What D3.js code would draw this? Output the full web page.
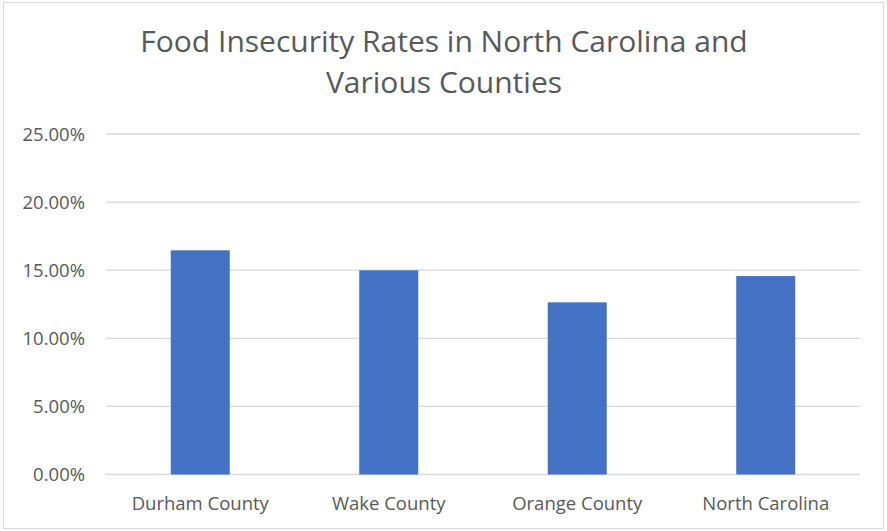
<!DOCTYPE html>
<html>
<head>
<meta charset="utf-8">
<script src="https://cdn.jsdelivr.net/npm/d3@7"></script>
<style>
  html, body { margin: 0; padding: 0; background: #fff; }
  svg { display: block; }
  text { font-family: "Open Sans", "Noto Sans", sans-serif; fill: #595959; }
</style>
</head>
<body>
<svg id="chart" width="887" height="531"></svg>
<script>
// Food insecurity rates (fraction of population)
const categories = ["Durham County", "Wake County", "Orange County", "North Carolina"];
const rates = [0.1646, 0.1499, 0.1264, 0.1457];
const yTicks = [0, 0.05, 0.10, 0.15, 0.20, 0.25];
const titleLines = ["Food Insecurity Rates in North Carolina and", "Various Counties"];

const svg = d3.select("#chart");
const W = 887, H = 531;

// chart frame
svg.append("rect")
  .attr("x", 3.5).attr("y", 2.5)
  .attr("width", W - 7).attr("height", H - 5)
  .attr("fill", "#fff").attr("stroke", "#d9d9d9").attr("stroke-width", 1);

const plot = { left: 106, right: 860, top: 134, bottom: 474.5 };

const x = d3.scaleBand()
  .domain(categories)
  .range([plot.left, plot.right])
  .paddingInner(0.687)
  .paddingOuter(0.3435);

const y = d3.scaleLinear()
  .domain([0, 0.25])
  .range([plot.bottom, plot.top]);

// gridlines
svg.append("g")
  .selectAll("line")
  .data(yTicks)
  .join("line")
  .attr("x1", plot.left).attr("x2", plot.right)
  .attr("y1", d => y(d)).attr("y2", d => y(d))
  .attr("stroke", "#d9d9d9").attr("stroke-width", 1.3);

// y axis labels
const yAxis = d3.axisLeft(y)
  .tickValues(yTicks)
  .tickFormat(d3.format(".2%"))
  .tickSize(0)
  .tickPadding(0);
const gy = svg.append("g")
  .attr("transform", `translate(85,0)`)
  .call(yAxis);
gy.select(".domain").remove();
gy.selectAll("text")
  .style("font-family", "'Open Sans', sans-serif")
  .attr("font-size", 18.5)
  .attr("fill", "#595959")
  .attr("dy", "0.35em");

// bars
svg.append("g")
  .selectAll("rect")
  .data(categories.map((c, i) => ({ c, v: rates[i] })))
  .join("rect")
  .attr("x", d => x(d.c))
  .attr("width", x.bandwidth())
  .attr("y", d => y(d.v))
  .attr("height", d => y(0) - y(d.v))
  .attr("fill", "#4472C4");

// x axis labels
const xAxis = d3.axisBottom(x).tickSize(0).tickPadding(0);
const gx = svg.append("g")
  .attr("transform", `translate(0,${plot.bottom})`)
  .call(xAxis);
gx.select(".domain").remove();
gx.selectAll("text")
  .style("font-family", "'Open Sans', sans-serif")
  .attr("font-size", 18.5)
  .attr("fill", "#595959")
  .attr("y", 35.5)
  .attr("dy", 0);

// title
svg.append("g")
  .selectAll("text")
  .data(titleLines)
  .join("text")
  .attr("x", 444)
  .attr("y", (d, i) => 52 + i * 41)
  .attr("text-anchor", "middle")
  .attr("font-size", 30)
  .text(d => d);
</script>
</body>
</html>
